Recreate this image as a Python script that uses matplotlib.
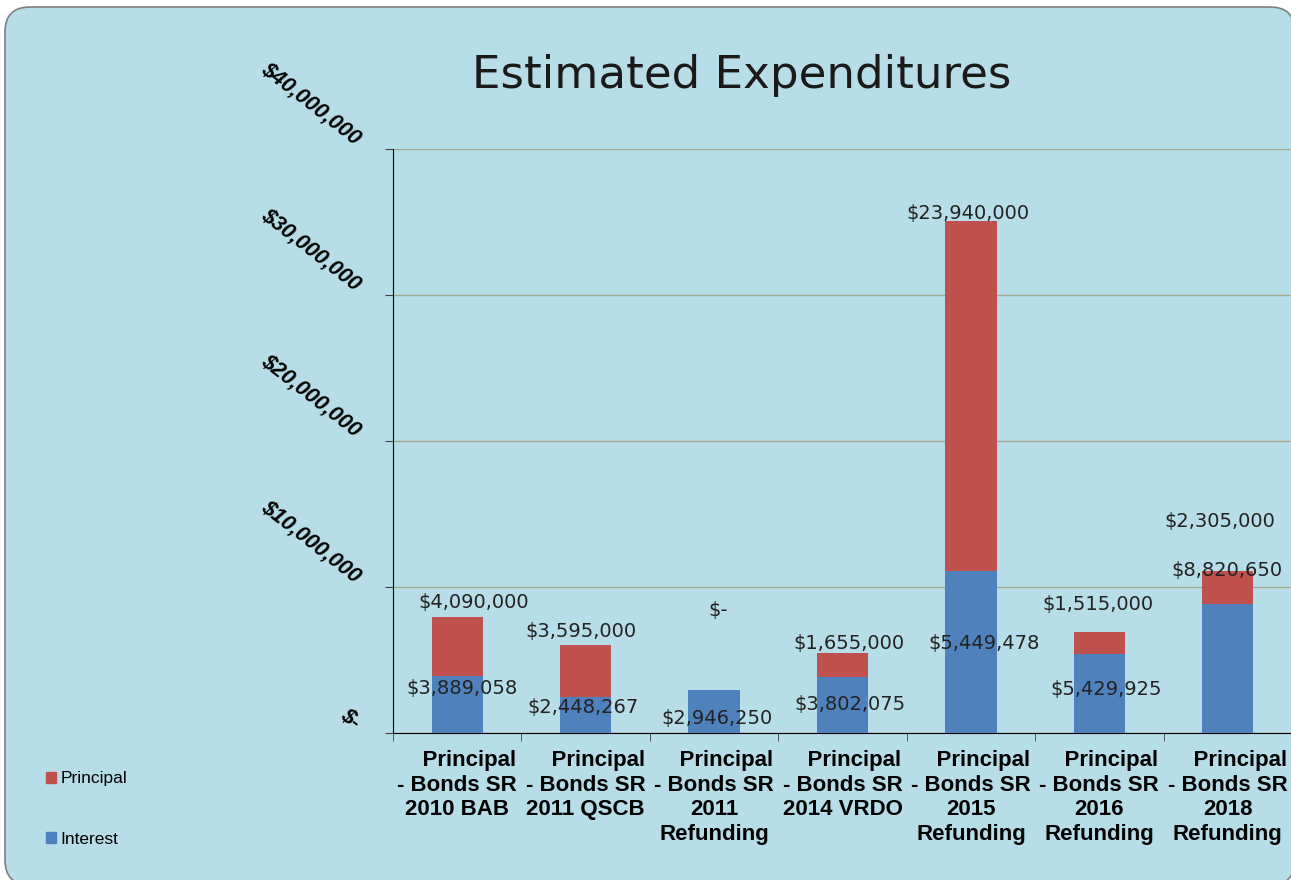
import matplotlib.pyplot as plt
from matplotlib.patches import FancyBboxPatch, Patch
from matplotlib.ticker import FixedLocator

# data
categories = ["Principal\n- Bonds SR\n2010 BAB", "Principal\n- Bonds SR\n2011 QSCB",
              "Principal\n- Bonds SR\n2011\nRefunding", "Principal\n- Bonds SR\n2014 VRDO",
              "Principal\n- Bonds SR\n2015\nRefunding", "Principal\n- Bonds SR\n2016\nRefunding",
              "Principal\n- Bonds SR\n2018\nRefunding"]
interest = [3889058, 2448267, 2946250, 3802075, 11100000, 5429925, 8820650]
principal = [4090000, 3595000, 0, 1655000, 23940000, 1515000, 2305000]
interest_text = ["$3,889,058", "$2,448,267", "$2,946,250", "$3,802,075",
                 "$5,449,478", "$5,429,925", "$8,820,650"]
principal_text = ["$4,090,000", "$3,595,000", "$-", "$1,655,000",
                  "$23,940,000", "$1,515,000", "$2,305,000"]
yticks = [0, 10000000, 20000000, 30000000, 40000000]
ytick_text = ["$-", "$10,000,000", "$20,000,000", "$30,000,000", "$40,000,000"]

# where the data labels sit (layout only)
interest_label_y = [3.08e6, 1.78e6, 0.96e6, 1.92e6, 6.10e6, 2.95e6, 11.16e6]
principal_label_y = [8.97e6, 6.92e6, 8.36e6, 6.10e6, 35.55e6, 8.77e6, 14.52e6]
interest_label_dx = [0.04, -0.02, 0.02, 0.06, 0.10, 0.05, -0.01]
principal_label_dx = [0.13, -0.04, 0.03, 0.05, -0.02, -0.01, -0.06]

blue = "#4f81bd"
red = "#c0504d"
bg = "#b7dde8"

fig = plt.figure(figsize=(12.91, 8.8), dpi=100, facecolor="white")
box = FancyBboxPatch((0.05, -0.05), 12.9, 8.78, boxstyle="round,pad=0,rounding_size=0.25",
                     transform=fig.dpi_scale_trans, facecolor=bg, edgecolor="#7f7f7f",
                     linewidth=1.2, zorder=-10)
fig.patches.append(box)

ax = fig.add_axes([393 / 1291, 1 - 733 / 880, 899 / 1291, 584 / 880])
ax.set_facecolor("none")

x = list(range(len(categories)))
ax.bar(x, interest, width=0.4, color=blue, zorder=3, label="Interest")
ax.bar(x, principal, width=0.4, bottom=interest, color=red, zorder=3, label="Principal")

for i in x:
    ax.text(i + interest_label_dx[i], interest_label_y[i], interest_text[i], ha="center",
            va="center", fontsize=14, color="#222222", family="DejaVu Sans", zorder=4)
    ax.text(i + principal_label_dx[i], principal_label_y[i], principal_text[i], ha="center",
            va="center", fontsize=14, color="#222222", family="DejaVu Sans", zorder=4)

ax.set_xlim(-0.5, 6.5)
ax.set_ylim(0, 40000000)
ax.set_axisbelow(True)
ax.yaxis.grid(True, color="#a3a98f", linewidth=1)

ax.set_yticks(yticks)
ax.set_yticklabels(ytick_text, rotation=-38, rotation_mode="anchor", ha="right",
                   va="bottom", fontsize=15.5, fontweight="bold", fontstyle="italic",
                   family="Liberation Sans")
ax.tick_params(axis="y", length=6, color="#404040", pad=24)

# first line sits a little right of centre in the original
xlabels = ["    " + c for c in categories]
ax.set_xticks(x)
ax.set_xticklabels(xlabels, fontsize=16, fontweight="bold", family="Liberation Sans",
                   linespacing=1.24)
ax.xaxis.set_minor_locator(FixedLocator([i - 0.5 for i in range(8)]))
ax.tick_params(axis="x", which="major", length=0, pad=12)
ax.tick_params(axis="x", which="minor", length=6, color="#404040")

for s in ["top", "right"]:
    ax.spines[s].set_visible(False)
ax.spines["left"].set_color("black")
ax.spines["bottom"].set_color("black")

fig.text(742 / 1291, 1 - 88 / 880, "Estimated Expenditures", ha="center", va="baseline",
         fontsize=32.5, color="#1a1a1a", family="DejaVu Sans")

handles = [Patch(color=red), Patch(color=blue)]
fig.legend(handles, ["Principal", "Interest"], loc="center left",
           bbox_to_anchor=(0.036, 1 - 809 / 880), frameon=False,
           prop={"family": "Liberation Sans", "size": 12.5},
           handlelength=0.55, handleheight=0.55, handletextpad=0.25,
           labelspacing=2.6, borderaxespad=0, borderpad=0)

fig.savefig("out.png", dpi=100, facecolor="white")
